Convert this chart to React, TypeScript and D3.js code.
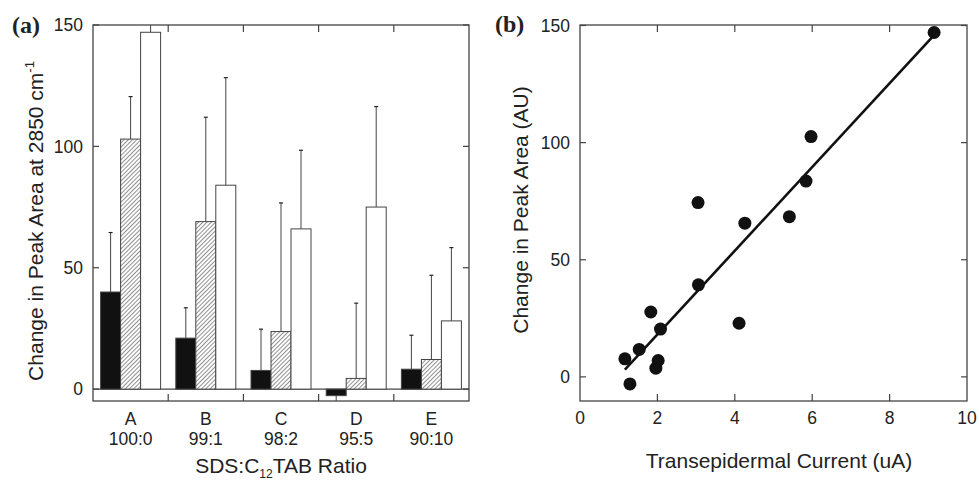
import React from "react";
import * as d3 from "d3";

// panel (a) – bars
const categories = ["A", "B", "C", "D", "E"];
const ratios = ["100:0", "99:1", "98:2", "95:5", "90:10"];
const seriesNames = ["solid", "hatched", "open"];
const solidVals = [40, 21, 7.7, -2.7, 8.2];
const solidErr = [24.5, 12.5, 17, 2.5, 14];
const hatchedVals = [103, 69, 23.7, 4.4, 12.2];
const hatchedErr = [17.5, 43, 53, 31, 34.7];
const openVals = [147, 84, 66, 75, 28.1];
const openErr = [10, 44.3, 32.4, 41.4, 30.2];
const barTicks = [0, 50, 100, 150];

// panel (b) – scatter
const currentX = [9.15, 5.97, 5.84, 3.05, 5.41, 4.26, 3.06, 1.83, 4.11, 2.08, 1.53, 1.16, 2.02, 1.96, 1.29];
const areaY = [147, 102.6, 83.6, 74.4, 68.4, 65.6, 39.3, 27.7, 22.9, 20.4, 11.7, 7.7, 7.0, 3.7, -3.0];
const fitX = [1.16, 9.09];
const fitY = [3.1, 144.8];
const xTicks = [0, 2, 4, 6, 8, 10];
const scatterYTicks = [0, 50, 100, 150];

const font = "'Liberation Sans', Arial, sans-serif";
const serif = "'Liberation Serif', 'Times New Roman', serif";
const axisCol = "#444";
const textCol = "#222";
const tickFont = 17.5;
const titleFont = 21;

const BarPanel = () => {
  const left = 93, right = 469, top = 25, bottom = 401;
  const y = d3.scaleLinear().domain([-4.9, 150]).range([bottom, top]);
  const x = d3.scaleBand().domain(categories).range([left, right]);
  const inner = d3.scaleBand().domain(seriesNames).range([0, x.bandwidth()]).paddingOuter(0.38);
  const series = [
    { name: "solid", vals: solidVals, err: solidErr, fill: "#111" },
    { name: "hatched", vals: hatchedVals, err: hatchedErr, fill: "url(#hatch)" },
    { name: "open", vals: openVals, err: openErr, fill: "#fff" },
  ];
  const bounds = categories.slice(1).map((c) => x(c)!);

  return (
    <g>
      <defs>
        <pattern id="hatch" patternUnits="userSpaceOnUse" width="3" height="3" patternTransform="rotate(45)">
          <rect width="3" height="3" fill="#fff" />
          <line x1="0" y1="0" x2="0" y2="3" stroke="#333" strokeWidth="1.1" />
        </pattern>
        <clipPath id="clipA">
          <rect x={left} y={top} width={right - left} height={bottom - top} />
        </clipPath>
      </defs>
      <line x1={left} x2={right} y1={y(0)} y2={y(0)} stroke={axisCol} strokeWidth={1.2} />
      <g clipPath="url(#clipA)">
        {series.map((s) =>
          categories.map((c, i) => {
            const v = s.vals[i];
            const bx = x(c)! + inner(s.name)!;
            const w = inner.bandwidth();
            const cx = bx + w / 2;
            const ye = v >= 0 ? y(v + s.err[i]) : y(v - s.err[i]);
            return (
              <g key={s.name + c}>
                <line x1={cx} x2={cx} y1={y(v)} y2={ye} stroke={axisCol} strokeWidth={1} />
                <line x1={cx - 2} x2={cx + 2} y1={ye} y2={ye} stroke={textCol} strokeWidth={1.2} />
                <rect
                  x={bx}
                  y={Math.min(y(v), y(0))}
                  width={w}
                  height={Math.abs(y(v) - y(0))}
                  fill={s.fill}
                  stroke={axisCol}
                  strokeWidth={1}
                />
              </g>
            );
          })
        )}
      </g>
      <rect x={left} y={top} width={right - left} height={bottom - top} fill="none" stroke={axisCol} strokeWidth={1.3} />
      {barTicks.map((t) => (
        <g key={t}>
          <line x1={left} x2={left + 6} y1={y(t)} y2={y(t)} stroke={axisCol} strokeWidth={1.2} />
          <line x1={right} x2={right - 6} y1={y(t)} y2={y(t)} stroke={axisCol} strokeWidth={1.2} />
          <text x={left - 10} y={y(t)} dy="0.36em" textAnchor="end" fontSize={tickFont} fontFamily={font} fill={textCol}>
            {t}
          </text>
        </g>
      ))}
      {bounds.map((b, i) => (
        <g key={i}>
          <line x1={b} x2={b} y1={top} y2={top + 7} stroke={axisCol} strokeWidth={1.2} />
          <line x1={b} x2={b} y1={bottom} y2={bottom - 7} stroke={axisCol} strokeWidth={1.2} />
        </g>
      ))}
      {categories.map((c, i) => (
        <g key={c} fontSize={tickFont} fontFamily={font} fill={textCol} textAnchor="middle">
          <text x={x(c)! + x.bandwidth() / 2} y={425}>{c}</text>
          <text x={x(c)! + x.bandwidth() / 2} y={445}>{ratios[i]}</text>
        </g>
      ))}
      <text x={(left + right) / 2} y={473} textAnchor="middle" fontSize={titleFont} fontFamily={font} fill={textCol}>
        SDS:C<tspan fontSize={12} dy={5}>12</tspan>
        <tspan dy={-5}>TAB Ratio</tspan>
      </text>
      <text
        transform={`translate(43,${(top + bottom) / 2 + 8}) rotate(-90)`}
        textAnchor="middle"
        fontSize={titleFont}
        fontFamily={font}
        fill={textCol}
      >
        Change in Peak Area at 2850 cm<tspan fontSize={13} dy={-9}>-1</tspan>
      </text>
      <text x={12} y={33} fontSize={24} fontWeight="bold" fontFamily={serif} fill={textCol}>
        (a)
      </text>
    </g>
  );
};

const ScatterPanel = () => {
  const left = 580, right = 967, top = 25, bottom = 401;
  const x = d3.scaleLinear().domain([0, 10]).range([left, right]);
  const y = d3.scaleLinear().domain([-10.3, 150]).range([bottom, top + 0.5]);
  const pts = currentX.map((cx, i) => ({ x: cx, y: areaY[i] }));
  const line = d3
    .line<number>()
    .x((d) => x(d))
    .y((_, i) => y(fitY[i]));

  return (
    <g>
      <rect x={left} y={top} width={right - left} height={bottom - top} fill="none" stroke={axisCol} strokeWidth={1.3} />
      {xTicks.map((t) => (
        <g key={t}>
          {t > 0 && t < 10 && (
            <>
              <line x1={x(t)} x2={x(t)} y1={top} y2={top + 7} stroke={axisCol} strokeWidth={1.2} />
              <line x1={x(t)} x2={x(t)} y1={bottom} y2={bottom - 7} stroke={axisCol} strokeWidth={1.2} />
            </>
          )}
          <text x={x(t)} y={424} textAnchor="middle" fontSize={tickFont} fontFamily={font} fill={textCol}>
            {t}
          </text>
        </g>
      ))}
      {scatterYTicks.map((t) => (
        <g key={t}>
          <line x1={left} x2={left + 6} y1={y(t)} y2={y(t)} stroke={axisCol} strokeWidth={1.2} />
          <line x1={right} x2={right - 6} y1={y(t)} y2={y(t)} stroke={axisCol} strokeWidth={1.2} />
          <text x={left - 10} y={y(t)} dy="0.36em" textAnchor="end" fontSize={tickFont} fontFamily={font} fill={textCol}>
            {t}
          </text>
        </g>
      ))}
      <path d={line(fitX) || ""} stroke="#111" strokeWidth={2.6} fill="none" />
      {pts.map((p, i) => (
        <circle key={i} cx={x(p.x)} cy={y(p.y)} r={6.5} fill="#111" />
      ))}
      <text x={779} y={468} textAnchor="middle" fontSize={titleFont} fontFamily={font} fill={textCol}>
        Transepidermal Current (uA)
      </text>
      <text
        transform={`translate(528,210) rotate(-90)`}
        textAnchor="middle"
        fontSize={titleFont}
        fontFamily={font}
        fill={textCol}
      >
        Change in Peak Area (AU)
      </text>
      <text x={495} y={32} fontSize={24} fontWeight="bold" fontFamily={serif} fill={textCol}>
        (b)
      </text>
    </g>
  );
};

const App = () => {
  return (
    <div>
      <style>{`body{margin:0}`}</style>
      <svg width={979} height={482} style={{ display: "block", background: "#fff" }}>
        <BarPanel />
        <ScatterPanel />
      </svg>
    </div>
  );
};

export default App;
